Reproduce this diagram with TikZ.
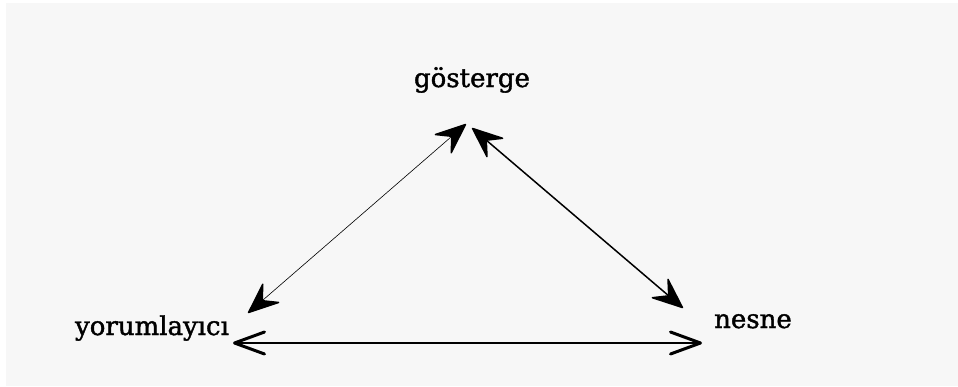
\documentclass[tikz,border=0pt]{standalone}
\usepackage{fontspec}
\setmainfont{DejaVu Serif}[FakeBold=1.5]
\usetikzlibrary{arrows.meta,calc}
\definecolor{bg}{HTML}{F7F7F7}
\tikzset{
  lbl/.style={inner sep=0pt, anchor=base, font=\fontsize{26}{30}\selectfont},
  diag/.style={{Stealth[length=34pt,width=28pt,inset=13pt,line width=1.5pt,round]}-{Stealth[length=34pt,width=28pt,inset=13pt,line width=1.5pt,round]}},
  horiz/.style={{Straight Barb[length=30pt,width=22pt,line width=3pt,round]}-{Straight Barb[length=30pt,width=22pt,line width=3pt,round]}, line width=2pt}
}
\begin{document}
\begin{tikzpicture}[x=1pt,y=-1pt]
\useasboundingbox (0,0) rectangle (958,386);
\fill[white] (0,0) rectangle (958,386);
\fill[bg] (6,3) rectangle (958,386);
\node[lbl] (g) at (472,87) {gösterge};
\node[lbl] (y) at (152,335) {yorumlayıcı};
\node[lbl] (n) at (753,328) {nesne};
\draw[diag, line width=0.6pt] ($(y.base)+(96,-22)$) -- ($(g.base)+(-6,37)$);
\draw[diag, line width=1.5pt] ($(g.base)+(0,41)$) -- ($(n.base)+(-70,-20)$);
\draw[horiz] ($(y.base)+(81,8)$) -- ($(n.base)+(-51,15)$);
\end{tikzpicture}
\end{document}
